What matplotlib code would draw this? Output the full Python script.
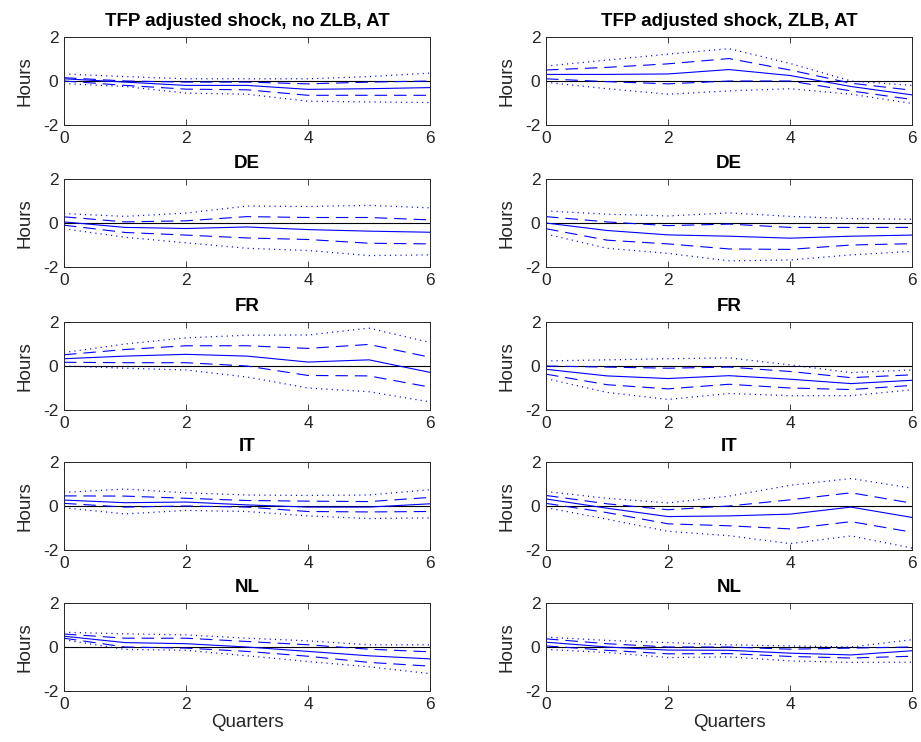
import numpy as np
import matplotlib
matplotlib.use("Agg")
import matplotlib.pyplot as plt

plt.rcParams['font.family'] = ['Liberation Sans', 'DejaVu Sans']
plt.rcParams['lines.scale_dashes'] = False
plt.rcParams['axes.unicode_minus'] = False

quarters = [0, 1, 2, 3, 4, 5, 6]
titles = ["TFP adjusted shock, no ZLB, AT", "TFP adjusted shock, ZLB, AT",
          "DE", "DE", "FR", "FR", "IT", "IT", "NL", "NL"]

# each panel: median, dashed upper/lower, dotted upper/lower
at_nozlb_med = [0.1, -0.05, -0.2, -0.2, -0.38, -0.35, -0.3]
at_nozlb_d_hi = [0.15, 0.0, -0.05, -0.05, -0.13, -0.05, 0.0]
at_nozlb_d_lo = [0.0, -0.2, -0.37, -0.4, -0.65, -0.65, -0.65]
at_nozlb_p_hi = [0.32, 0.2, 0.1, 0.1, 0.1, 0.2, 0.36]
at_nozlb_p_lo = [-0.12, -0.25, -0.55, -0.6, -0.92, -0.95, -0.98]

at_zlb_med = [0.3, 0.3, 0.32, 0.52, 0.25, -0.25, -0.63]
at_zlb_d_hi = [0.5, 0.62, 0.78, 1.02, 0.5, -0.1, -0.42]
at_zlb_d_lo = [0.1, -0.03, -0.13, 0.0, 0.0, -0.45, -0.84]
at_zlb_p_hi = [0.68, 0.95, 1.22, 1.47, 0.8, 0.0, -0.2]
at_zlb_p_lo = [-0.06, -0.35, -0.6, -0.45, -0.35, -0.6, -1.02]

de_nozlb_med = [0.05, -0.2, -0.25, -0.18, -0.3, -0.37, -0.42]
de_nozlb_d_hi = [0.28, 0.05, 0.1, 0.29, 0.25, 0.25, 0.14]
de_nozlb_d_lo = [-0.1, -0.43, -0.55, -0.68, -0.75, -0.92, -0.95]
de_nozlb_p_hi = [0.43, 0.3, 0.45, 0.77, 0.75, 0.8, 0.69]
de_nozlb_p_lo = [-0.26, -0.65, -0.9, -1.15, -1.25, -1.48, -1.45]

de_zlb_med = [0.0, -0.34, -0.54, -0.6, -0.69, -0.6, -0.55]
de_zlb_d_hi = [0.29, 0.05, -0.12, -0.05, -0.2, -0.2, -0.2]
de_zlb_d_lo = [-0.26, -0.78, -0.95, -1.18, -1.2, -1.0, -0.94]
de_zlb_p_hi = [0.55, 0.4, 0.32, 0.46, 0.3, 0.2, 0.17]
de_zlb_p_lo = [-0.5, -1.15, -1.38, -1.72, -1.68, -1.45, -1.29]

fr_nozlb_med = [0.33, 0.45, 0.53, 0.45, 0.18, 0.28, -0.29]
fr_nozlb_d_hi = [0.51, 0.75, 0.92, 0.92, 0.8, 0.98, 0.4]
fr_nozlb_d_lo = [0.17, 0.15, 0.15, 0.0, -0.43, -0.45, -0.96]
fr_nozlb_p_hi = [0.61, 1.0, 1.28, 1.4, 1.41, 1.72, 1.07]
fr_nozlb_p_lo = [0.0, -0.1, -0.18, -0.5, -1.0, -1.17, -1.63]

fr_zlb_med = [-0.15, -0.45, -0.57, -0.44, -0.6, -0.8, -0.65]
fr_zlb_d_hi = [0.0, -0.05, -0.1, -0.05, -0.25, -0.53, -0.4]
fr_zlb_d_lo = [-0.37, -0.85, -1.04, -0.83, -1.0, -1.07, -0.88]
fr_zlb_p_hi = [0.23, 0.28, 0.33, 0.37, 0.05, -0.3, -0.18]
fr_zlb_p_lo = [-0.57, -1.2, -1.52, -1.25, -1.35, -1.35, -1.08]

it_nozlb_med = [0.27, 0.15, 0.18, 0.05, -0.05, -0.05, 0.1]
it_nozlb_d_hi = [0.46, 0.45, 0.35, 0.25, 0.22, 0.2, 0.39]
it_nozlb_d_lo = [0.12, -0.05, 0.0, -0.05, -0.25, -0.27, -0.25]
it_nozlb_p_hi = [0.62, 0.77, 0.6, 0.5, 0.48, 0.5, 0.74]
it_nozlb_p_lo = [-0.08, -0.36, -0.2, -0.25, -0.45, -0.57, -0.54]

it_zlb_med = [0.32, -0.1, -0.48, -0.45, -0.37, -0.05, -0.52]
it_zlb_d_hi = [0.48, 0.1, -0.17, 0.0, 0.28, 0.6, 0.13]
it_zlb_d_lo = [0.12, -0.3, -0.81, -0.9, -1.04, -0.71, -1.19]
it_zlb_p_hi = [0.66, 0.35, 0.14, 0.45, 0.94, 1.25, 0.81]
it_zlb_p_lo = [-0.07, -0.6, -1.15, -1.35, -1.71, -1.36, -1.91]

nl_nozlb_med = [0.49, 0.2, 0.15, 0.0, -0.2, -0.4, -0.54]
nl_nozlb_d_hi = [0.59, 0.4, 0.4, 0.25, 0.1, -0.1, -0.22]
nl_nozlb_d_lo = [0.4, 0.0, -0.05, -0.2, -0.42, -0.7, -0.87]
nl_nozlb_p_hi = [0.67, 0.6, 0.55, 0.4, 0.28, 0.1, 0.1]
nl_nozlb_p_lo = [0.33, -0.11, -0.15, -0.4, -0.66, -0.9, -1.21]

nl_zlb_med = [0.22, 0.0, -0.14, -0.15, -0.28, -0.36, -0.17]
nl_zlb_d_hi = [0.37, 0.15, 0.0, 0.0, -0.1, -0.05, 0.0]
nl_zlb_d_lo = [0.05, -0.15, -0.31, -0.3, -0.43, -0.5, -0.42]
nl_zlb_p_hi = [0.45, 0.3, 0.2, 0.1, 0.05, 0.0, 0.33]
nl_zlb_p_lo = [-0.11, -0.25, -0.48, -0.45, -0.63, -0.7, -0.69]

panels = [
    (at_nozlb_med, at_nozlb_d_hi, at_nozlb_d_lo, at_nozlb_p_hi, at_nozlb_p_lo),
    (at_zlb_med, at_zlb_d_hi, at_zlb_d_lo, at_zlb_p_hi, at_zlb_p_lo),
    (de_nozlb_med, de_nozlb_d_hi, de_nozlb_d_lo, de_nozlb_p_hi, de_nozlb_p_lo),
    (de_zlb_med, de_zlb_d_hi, de_zlb_d_lo, de_zlb_p_hi, de_zlb_p_lo),
    (fr_nozlb_med, fr_nozlb_d_hi, fr_nozlb_d_lo, fr_nozlb_p_hi, fr_nozlb_p_lo),
    (fr_zlb_med, fr_zlb_d_hi, fr_zlb_d_lo, fr_zlb_p_hi, fr_zlb_p_lo),
    (it_nozlb_med, it_nozlb_d_hi, it_nozlb_d_lo, it_nozlb_p_hi, it_nozlb_p_lo),
    (it_zlb_med, it_zlb_d_hi, it_zlb_d_lo, it_zlb_p_hi, it_zlb_p_lo),
    (nl_nozlb_med, nl_nozlb_d_hi, nl_nozlb_d_lo, nl_nozlb_p_hi, nl_nozlb_p_lo),
    (nl_zlb_med, nl_zlb_d_hi, nl_zlb_d_lo, nl_zlb_p_hi, nl_zlb_p_lo),
]

W, H = 921, 742
fig = plt.figure(figsize=(W / 100, H / 100), dpi=100)

lefts = [64, 546]
tops = [37, 179, 322, 462, 603]
aw, ah = 366, 88
frame = (0.15, 0.15, 0.15)

for i, (med, dhi, dlo, phi, plo) in enumerate(panels):
    r, c = divmod(i, 2)
    ax = fig.add_axes([lefts[c] / W, 1 - (tops[r] + ah) / H, aw / W, ah / H])
    ax.plot(quarters, np.zeros(len(quarters)), color='black', lw=0.8)
    ax.plot(quarters, med, color='blue', lw=0.8)
    for band in (dhi, dlo):
        ax.plot(quarters, band, color='blue', lw=0.8, dashes=(9, 5))
    for band in (phi, plo):
        ax.plot(quarters, band, color='blue', lw=0.9, dashes=(0.8, 3))
    ax.set_xlim(0, 6)
    ax.set_ylim(-2, 2)
    ax.set_xticks([0, 2, 4, 6])
    ax.set_yticks([-2, 0, 2])
    ax.tick_params(direction='in', top=True, right=True, labelsize=12.5,
                   colors=frame, length=4, width=0.6, pad=4)
    for s in ax.spines.values():
        s.set_color(frame)
        s.set_linewidth(0.7)
    ax.set_ylabel("Hours", fontsize=13.5, color=frame, labelpad=7)
    ax.set_title(titles[i], fontsize=13.5, fontweight='bold', pad=8)
    if r == 4:
        ax.set_xlabel("Quarters", fontsize=13.5, color=frame, labelpad=2)

fig.savefig("out.png", dpi=100)
